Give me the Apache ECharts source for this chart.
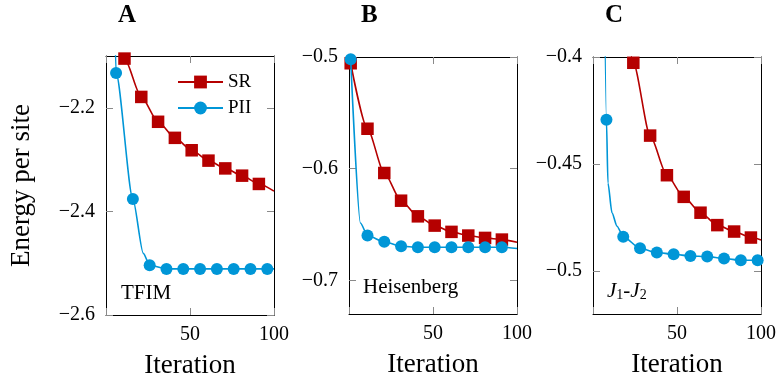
<!DOCTYPE html>
<html>
<head>
<meta charset="utf-8">
<script src="https://cdn.jsdelivr.net/npm/echarts@6/dist/echarts.min.js"></script>
<style>
  html, body { margin: 0; padding: 0; background: #fff; }
  #chart { width: 777px; height: 378px; }
</style>
</head>
<body>
<div id="chart"></div>
<script>
// ---- Energy per site vs. iteration, three models ----

// TFIM
const tfimSrIter = [11, 21, 31, 41, 51, 61, 71, 81, 91];
const tfimSrEnergy = [-2.105, -2.179, -2.227, -2.258, -2.282, -2.302, -2.317, -2.331, -2.347];
const tfimSrPlainIter = [1, 100];
const tfimSrPlainEnergy = [-2.0, -2.361];

const tfimPiiIter = [6, 16, 26, 36, 46, 56, 66, 76, 86, 96];
const tfimPiiEnergy = [-2.133, -2.376, -2.504, -2.511, -2.511, -2.511, -2.511, -2.511, -2.511, -2.511];
const tfimPiiPlainIter = [4.5, 22.2, 100];
const tfimPiiPlainEnergy = [-1.92, -2.481, -2.511];

// Heisenberg
const heisSrIter = [1, 11, 21, 31, 41, 51, 61, 71, 81, 91];
const heisSrEnergy = [-0.5056, -0.5642, -0.6038, -0.6286, -0.6426, -0.6509, -0.6565, -0.6598, -0.6619, -0.6634];
const heisSrPlainIter = [100];
const heisSrPlainEnergy = [-0.6658];

const heisPiiIter = [1, 11, 21, 31, 41, 51, 61, 71, 81, 91];
const heisPiiEnergy = [-0.5021, -0.6598, -0.6654, -0.6693, -0.6702, -0.6702, -0.6702, -0.6702, -0.6702, -0.6702];
const heisPiiPlainIter = [6.8, 100];
const heisPiiPlainEnergy = [-0.6485, -0.6714];

// J1-J2
const j1j2SrIter = [24, 34, 44, 54, 64, 74, 84, 94];
const j1j2SrEnergy = [-0.4027, -0.4367, -0.4552, -0.4653, -0.4727, -0.4785, -0.4815, -0.4843];
const j1j2SrPlainIter = [19, 100];
const j1j2SrPlainEnergy = [-0.375, -0.4854];

const j1j2PiiIter = [8, 18, 28, 38, 48, 58, 68, 78, 88, 98];
const j1j2PiiEnergy = [-0.4293, -0.4839, -0.4893, -0.4913, -0.4921, -0.4929, -0.4932, -0.4941, -0.4949, -0.4949];
const j1j2PiiPlainIter = [6, 8.9, 11.3, 14.3, 100];
const j1j2PiiPlainEnergy = [-0.30, -0.4588, -0.4727, -0.479, -0.4949];

// Axis ticks
const iterTicks = [0, 50, 100];
const iterLabels = [50, 100];
const tfimTicks = [-2.6, -2.4, -2.2];
const heisTicks = [-0.7, -0.6, -0.5];
const j1j2Ticks = [-0.5, -0.45, -0.4];

const panelTitles = ['A', 'B', 'C'];
const modelNames = ['TFIM', 'Heisenberg'];
const seriesNames = ['SR', 'PII'];
const xTitle = 'Iteration';
const yTitle = 'Energy per site';

// ---- styling ----
const FONT = 'Liberation Serif';
const RED = '#b50000';
const BLUE = '#0096d7';
const TICK_GREY = '#8a8a8a';

const panels = [
  { left: 106, top: 56, width: 168, height: 259, ymin: -2.6, ymax: -2.1, ticks: tfimTicks },
  { left: 349, top: 57, width: 168, height: 257, ymin: -0.73, ymax: -0.5, ticks: heisTicks },
  { left: 593, top: 57, width: 168, height: 257, ymin: -0.52, ymax: -0.4, ticks: j1j2Ticks }
];

function fmt(v) {
  const s = String(+Math.abs(v).toFixed(3));
  return (v < 0 ? '\u2212' : '') + s;
}

function buildData(iters, energies, plainIters, plainEnergies) {
  const pts = [];
  iters.forEach((x, i) => pts.push({ value: [x, energies[i]] }));
  plainIters.forEach((x, i) => pts.push({ value: [x, plainEnergies[i]], symbol: 'none' }));
  pts.sort((a, b) => a.value[0] - b.value[0]);
  return pts;
}

const grids = [], xAxes = [], yAxes = [];
const tickStyle = { show: true, inside: true, length: 7, lineStyle: { color: TICK_GREY, width: 1 } };
const lineStyle = { show: true, onZero: false, lineStyle: { color: '#000', width: 1 } };

panels.forEach((p, i) => {
  grids.push({ left: p.left, top: p.top, width: p.width, height: p.height, outerBoundsMode: 'none' });
  // bottom iteration axis
  xAxes.push({
    type: 'value', gridIndex: i, position: 'bottom', min: 0, max: 100,
    axisLine: lineStyle,
    axisTick: Object.assign({}, tickStyle, { customValues: iterTicks }),
    axisLabel: { customValues: iterLabels, margin: 10, fontFamily: FONT, fontSize: 20, color: '#000' },
    splitLine: { show: false },
    name: xTitle, nameLocation: 'middle', nameGap: 37,
    nameTextStyle: { fontFamily: FONT, fontSize: 27, color: '#000' }
  });
  // top frame with mirrored ticks
  xAxes.push({
    type: 'value', gridIndex: i, position: 'top', min: 0, max: 100,
    axisLine: lineStyle,
    axisTick: Object.assign({}, tickStyle, { customValues: iterTicks }),
    axisLabel: { show: false }, splitLine: { show: false }
  });
  // left energy axis
  const yLeft = {
    type: 'value', gridIndex: i, position: 'left', min: p.ymin, max: p.ymax,
    axisLine: lineStyle,
    axisTick: Object.assign({}, tickStyle, { customValues: p.ticks }),
    axisLabel: { customValues: p.ticks, formatter: fmt, margin: 11, fontFamily: FONT, fontSize: 20, color: '#000' },
    splitLine: { show: false }
  };
  if (i === 0) {
    Object.assign(yLeft, {
      name: yTitle, nameLocation: 'middle', nameGap: 71,
      nameTextStyle: { fontFamily: FONT, fontSize: 27, color: '#000' }
    });
  }
  yAxes.push(yLeft);
  // right frame with mirrored ticks
  yAxes.push({
    type: 'value', gridIndex: i, position: 'right', min: p.ymin, max: p.ymax,
    axisLine: lineStyle,
    axisTick: Object.assign({}, tickStyle, { customValues: p.ticks }),
    axisLabel: { show: false }, splitLine: { show: false }
  });
});

function makeSeries(name, panel, data, isSr) {
  const color = isSr ? RED : BLUE;
  return {
    name: name, type: 'line',
    xAxisIndex: panel * 2, yAxisIndex: panel * 2,
    data: data,
    smooth: 0.25, smoothMonotone: 'x',
    symbol: isSr ? 'rect' : 'circle',
    symbolSize: isSr ? 12.5 : 12,
    showAllSymbol: true,
    clip: true,
    lineStyle: { color: color, width: 1.6 },
    itemStyle: { color: color, borderWidth: 0 },
    emphasis: { disabled: true },
    z: isSr ? 3 : 4
  };
}

const series = [
  makeSeries(seriesNames[0], 0, buildData(tfimSrIter, tfimSrEnergy, tfimSrPlainIter, tfimSrPlainEnergy), true),
  makeSeries(seriesNames[1], 0, buildData(tfimPiiIter, tfimPiiEnergy, tfimPiiPlainIter, tfimPiiPlainEnergy), false),
  makeSeries(seriesNames[0], 1, buildData(heisSrIter, heisSrEnergy, heisSrPlainIter, heisSrPlainEnergy), true),
  makeSeries(seriesNames[1], 1, buildData(heisPiiIter, heisPiiEnergy, heisPiiPlainIter, heisPiiPlainEnergy), false),
  makeSeries(seriesNames[0], 2, buildData(j1j2SrIter, j1j2SrEnergy, j1j2SrPlainIter, j1j2SrPlainEnergy), true),
  makeSeries(seriesNames[1], 2, buildData(j1j2PiiIter, j1j2PiiEnergy, j1j2PiiPlainIter, j1j2PiiPlainEnergy), false)
];

const titleX = [127, 370, 614];
const graphic = panelTitles.map((t, i) => ({
  type: 'text', left: titleX[i] - 9, top: 3,
  style: { text: t, font: 'bold 25px "' + FONT + '"', fill: '#000' }
}));
graphic.push(
  { type: 'text', left: 121, top: 283, style: { text: modelNames[0], font: '21px "' + FONT + '"', fill: '#000' } },
  { type: 'text', left: 363, top: 277, style: { text: modelNames[1], font: '21px "' + FONT + '"', fill: '#000' } },
  { type: 'text', left: 607, top: 281, style: {
      text: '{j|J}{s|1}{d|-}{j|J}{s|2}',
      rich: {
        j: { fontFamily: FONT, fontStyle: 'italic', fontSize: 21, fill: '#000', color: '#000' },
        s: { fontFamily: FONT, fontSize: 14, color: '#000', padding: [8, 0, 0, 0] },
        d: { fontFamily: FONT, fontSize: 21, color: '#000' }
      }
  } }
);

const chart = echarts.init(document.getElementById('chart'), null, { renderer: 'canvas' });
chart.setOption({
  animation: false,
  backgroundColor: '#fff',
  grid: grids,
  xAxis: xAxes,
  yAxis: yAxes,
  legend: {
    data: seriesNames,
    orient: 'vertical',
    left: 177, top: 72, padding: 0,
    itemWidth: 45, itemHeight: 16, itemGap: 6,
    textStyle: { fontFamily: FONT, fontSize: 19, color: '#000', lineHeight: 20 },
    selectedMode: false
  },
  series: series,
  graphic: graphic
});
</script>
</body>
</html>
